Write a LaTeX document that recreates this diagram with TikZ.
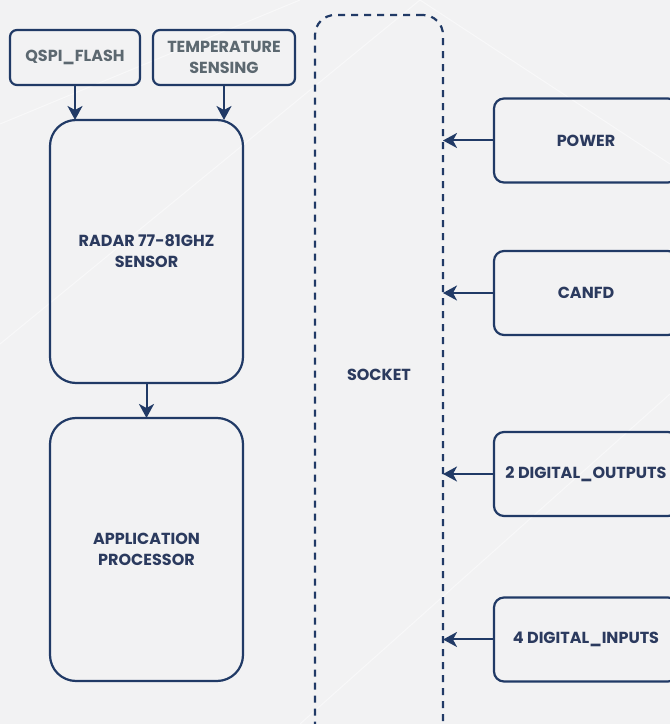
\documentclass[tikz,border=0pt]{standalone}
\usepackage{fontspec}
\setmainfont{Poppins}
\usepackage{xcolor}
\usepackage{tikz}
\usetikzlibrary{arrows.meta}
\definecolor{navy}{HTML}{213A66}
\definecolor{navytext}{HTML}{2B3A5E}
\definecolor{greytext}{HTML}{5C6870}
\definecolor{backdrop}{HTML}{F2F2F3}
\tikzset{
  unit/.style={
    draw=navy,
    line width=2.2pt,
    rounded corners=9pt,
    align=center,
    font=\fontsize{16}{21}\selectfont\bfseries,
    text=navytext,
    outer sep=0pt
  },
  memblock/.style={
    unit,
    rounded corners=7pt,
    minimum height=55pt,
    text=greytext
  },
  coreblock/.style={
    unit,
    rounded corners=26pt,
    minimum width=193pt,
    minimum height=263pt
  },
  ioblock/.style={
    unit,
    rounded corners=10pt,
    minimum width=184pt,
    minimum height=84pt
  },
  socketblock/.style={
    unit,
    dash pattern=on 7pt off 6pt,
    rounded corners=20pt,
    minimum width=128pt,
    minimum height=755pt
  },
  every edge/.style={draw=navy, -{Stealth[length=14pt,width=15pt,inset=4pt]}, line width=2pt}
}

\begin{document}
\begin{tikzpicture}[x=1pt,y=1pt]
  \clip (0,0) rectangle (670,724);
  \fill[backdrop] (0,0) rectangle (670,724);
  % faint light streaks in the backdrop
  \draw[white, line width=1pt, opacity=0.5] (0,600) -- (300,724)
        (0,380) -- (420,724) (300,0) -- (670,330) (420,724) -- (670,560);

  \node[memblock, minimum width=130pt] (qspi) at (75,666.5) {QSPI\_FLASH};
  \node[memblock, minimum width=142pt] (temp) at (224,666.5) {TEMPERATURE\\SENSING};

  \node[coreblock] (radar) at (146.5,472.5) {RADAR 77-81GHZ\\SENSOR};
  \node[coreblock] (app) at (146.5,174.5) {APPLICATION\\PROCESSOR};

  \node[socketblock] (socket) at (379,331.5) {};
  \node[font=\fontsize{16}{21}\selectfont\bfseries, text=navytext] (socketname) at (379,349) {SOCKET};

  \node[ioblock] (power) at (586,583.5) {POWER};
  \node[ioblock] (canfd) at (586,431) {CANFD};
  \node[ioblock] (dout) at (586,250) {2 DIGITAL\_OUTPUTS};
  \node[ioblock] (din) at (586,84.5) {4 DIGITAL\_INPUTS};

  \path (qspi.south) edge (qspi.south |- radar.north)
        (temp.south) edge (temp.south |- radar.north)
        (radar) edge (app)
        (power) edge (power -| socket.east)
        (canfd) edge (canfd -| socket.east)
        (dout) edge (dout -| socket.east)
        (din) edge (din -| socket.east);
\end{tikzpicture}
\end{document}
